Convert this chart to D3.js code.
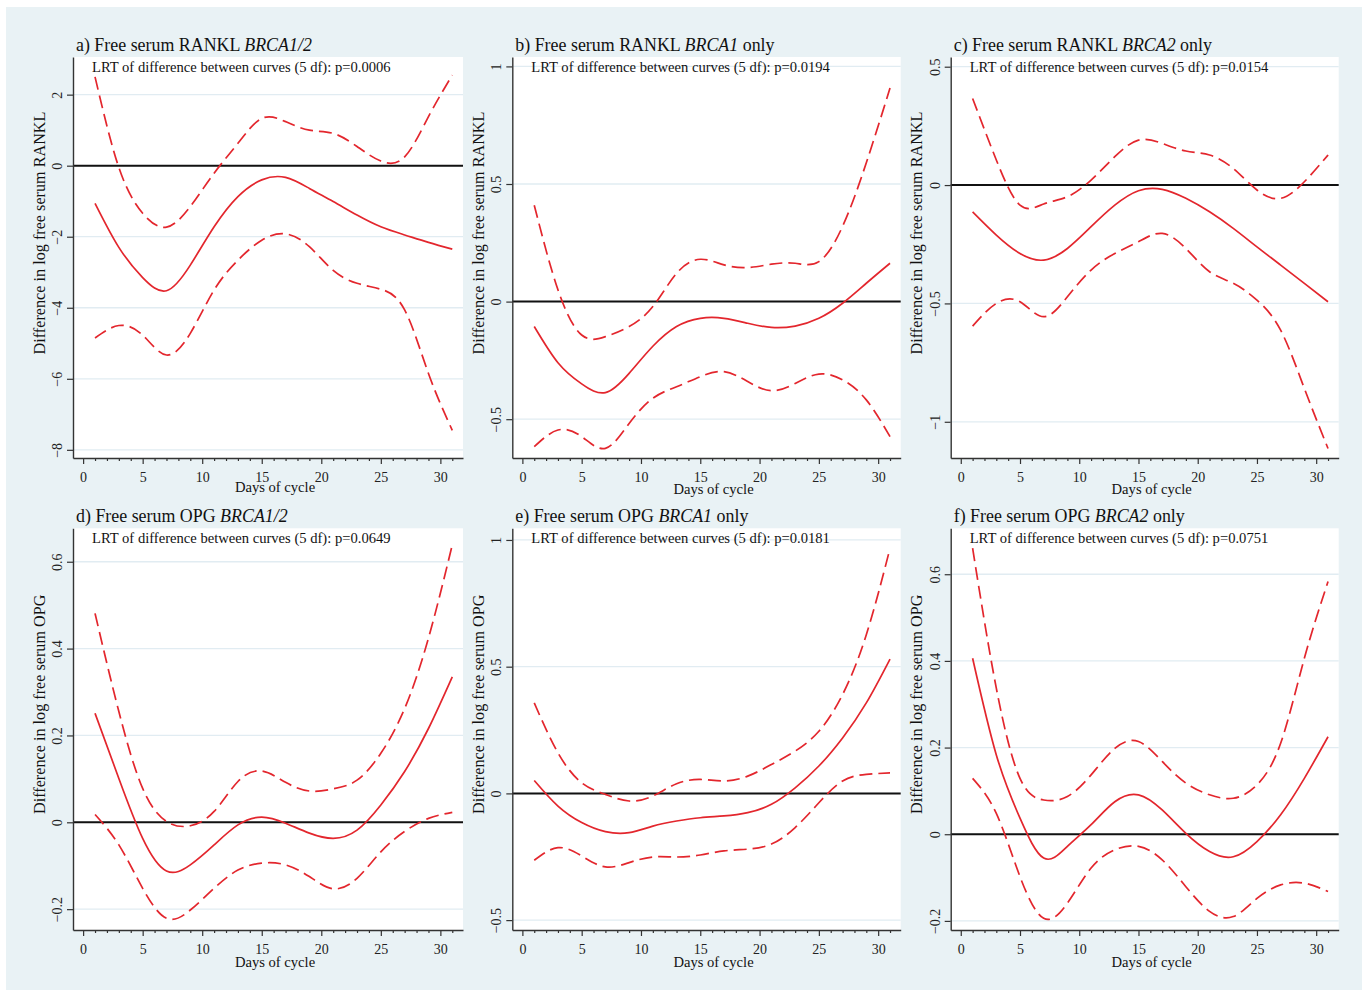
<!DOCTYPE html>
<html>
<head>
<meta charset="utf-8">
<script src="https://cdn.jsdelivr.net/npm/d3@7"></script>
<style>
  body { margin: 0; background: #fff; }
  svg { display: block; font-family: "Liberation Serif", "Times New Roman", serif; }
</style>
</head>
<body>
<div id="chart"></div>
<script>
const days = [1, 3, 5, 7, 9, 11, 13, 15, 17, 19, 21, 23, 25, 27, 29, 31];

// a) free serum RANKL, BRCA1/2
const ranklBoth = [-1.06, -2.3, -3.15, -3.52, -2.8, -1.72, -0.87, -0.4, -0.33, -0.64, -1.01, -1.39, -1.72, -1.95, -2.16, -2.35];
const ranklBothHi = [2.5, -0.05, -1.34, -1.73, -1.15, -0.21, 0.63, 1.33, 1.24, 1.0, 0.91, 0.54, 0.13, 0.25, 1.38, 2.55];
const ranklBothLo = [-4.85, -4.5, -4.77, -5.33, -4.72, -3.5, -2.66, -2.1, -1.92, -2.28, -2.95, -3.31, -3.48, -4.06, -5.85, -7.45];

// b) free serum RANKL, BRCA1 only
const ranklB1 = [-0.106, -0.26, -0.35, -0.387, -0.305, -0.19, -0.106, -0.071, -0.071, -0.092, -0.11, -0.104, -0.071, -0.007, 0.078, 0.163];
const ranklB1Hi = [0.41, 0.05, -0.142, -0.149, -0.106, -0.021, 0.12, 0.18, 0.156, 0.145, 0.159, 0.163, 0.17, 0.32, 0.59, 0.908];
const ranklB1Lo = [-0.617, -0.546, -0.574, -0.624, -0.518, -0.411, -0.362, -0.319, -0.298, -0.34, -0.379, -0.348, -0.308, -0.333, -0.418, -0.574];

// c) free serum RANKL, BRCA2 only
const ranklB2 = [-0.113, -0.211, -0.289, -0.317, -0.268, -0.176, -0.085, -0.024, -0.018, -0.056, -0.113, -0.183, -0.261, -0.338, -0.415, -0.493];
const ranklB2Hi = [0.366, 0.106, -0.085, -0.08, -0.049, 0.021, 0.12, 0.19, 0.176, 0.144, 0.127, 0.07, -0.021, -0.056, 0.014, 0.127];
const ranklB2Lo = [-0.596, -0.5, -0.493, -0.556, -0.472, -0.359, -0.289, -0.239, -0.204, -0.268, -0.366, -0.415, -0.486, -0.613, -0.859, -1.113];

// d) free serum OPG, BRCA1/2
const opgBoth = [0.251, 0.101, -0.037, -0.112, -0.098, -0.052, -0.006, 0.012, -0.002, -0.025, -0.037, -0.018, 0.04, 0.117, 0.216, 0.335];
const opgBothHi = [0.481, 0.255, 0.078, 0.002, -0.008, 0.025, 0.094, 0.118, 0.092, 0.072, 0.077, 0.097, 0.159, 0.262, 0.424, 0.639];
const opgBothLo = [0.018, -0.052, -0.152, -0.221, -0.202, -0.152, -0.11, -0.094, -0.098, -0.125, -0.153, -0.129, -0.068, -0.021, 0.009, 0.023];

// e) free serum OPG, BRCA1 only
const opgB1 = [0.051, -0.05, -0.115, -0.151, -0.155, -0.129, -0.109, -0.096, -0.089, -0.076, -0.043, 0.022, 0.108, 0.219, 0.357, 0.53];
const opgB1Hi = [0.357, 0.16, 0.042, -0.004, -0.03, -0.01, 0.038, 0.055, 0.049, 0.068, 0.114, 0.167, 0.245, 0.39, 0.626, 0.967];
const opgB1Lo = [-0.264, -0.214, -0.247, -0.29, -0.273, -0.251, -0.251, -0.243, -0.227, -0.22, -0.2, -0.135, -0.037, 0.049, 0.075, 0.081];

// f) free serum OPG, BRCA2 only
const opgB2 = [0.406, 0.183, 0.037, -0.055, -0.028, 0.022, 0.075, 0.091, 0.056, 0.002, -0.04, -0.052, -0.017, 0.045, 0.129, 0.225];
const opgB2Hi = [0.66, 0.337, 0.129, 0.079, 0.087, 0.137, 0.198, 0.214, 0.168, 0.118, 0.091, 0.083, 0.114, 0.21, 0.406, 0.583];
const opgB2Lo = [0.129, 0.048, -0.098, -0.194, -0.159, -0.078, -0.036, -0.028, -0.059, -0.121, -0.178, -0.19, -0.148, -0.117, -0.113, -0.132];

const letters = ["a", "b", "c", "d", "e", "f"];
const markers = ["Free serum RANKL", "Free serum RANKL", "Free serum RANKL", "Free serum OPG", "Free serum OPG", "Free serum OPG"];
const genes = ["BRCA1/2", "BRCA1", "BRCA2", "BRCA1/2", "BRCA1", "BRCA2"];
const geneSuffix = ["", " only", " only", "", " only", " only"];
const pValues = ["0.0006", "0.0194", "0.0154", "0.0649", "0.0181", "0.0751"];
const yTitles = ["Difference in log free serum RANKL", "Difference in log free serum RANKL", "Difference in log free serum RANKL",
  "Difference in log free serum OPG", "Difference in log free serum OPG", "Difference in log free serum OPG"];
const yTickValues = [[-8, -6, -4, -2, 0, 2], [-0.5, 0, 0.5, 1], [-1, -0.5, 0, 0.5],
  [-0.2, 0, 0.2, 0.4, 0.6], [-0.5, 0, 0.5, 1], [-0.2, 0, 0.2, 0.4, 0.6]];
const xMajor = [0, 5, 10, 15, 20, 25, 30];

const estimates = [ranklBoth, ranklB1, ranklB2, opgBoth, opgB1, opgB2];
const uppers = [ranklBothHi, ranklB1Hi, ranklB2Hi, opgBothHi, opgB1Hi, opgB2Hi];
const lowers = [ranklBothLo, ranklB1Lo, ranklB2Lo, opgBothLo, opgB1Lo, opgB2Lo];

const width = 1368, height = 992;
const cols = [[73, 463], [512.3, 900.7], [950.7, 1338.7]];
const rows = [[57, 458], [528.3, 930]];
const yDomains = [[-8.23, 3.06], [-0.665, 1.04], [-1.153, 0.541], [-0.248, 0.677], [-0.539, 1.046], [-0.221, 0.706]];
const xDomain = [-0.85, 31.9];
const xTitleOffset = [34, 36, 36, 37, 37, 37];
const red = "#e3262d";

const svg = d3.select("#chart").append("svg")
  .attr("width", width)
  .attr("height", height);

svg.append("rect")
  .attr("x", 6).attr("y", 7)
  .attr("width", 1356).attr("height", 983)
  .attr("fill", "#e9f2f5");

const fmt = d => d3.format("~g")(d);

letters.forEach((letter, i) => {
  const [left, right] = cols[i % 3];
  const [top, bottom] = rows[Math.floor(i / 3)];

  const x = d3.scaleLinear().domain(xDomain).range([left, right]);
  const y = d3.scaleLinear().domain(yDomains[i]).range([bottom, top]);

  const g = svg.append("g");

  g.append("rect")
    .attr("x", left).attr("y", top)
    .attr("width", right - left).attr("height", bottom - top)
    .attr("fill", "#fff");

  // grid
  g.append("g")
    .selectAll("line")
    .data(yTickValues[i])
    .join("line")
    .attr("x1", left).attr("x2", right)
    .attr("y1", d => y(d)).attr("y2", d => y(d))
    .attr("stroke", "#e1ecf2")
    .attr("stroke-width", 1.3);

  // zero reference
  g.append("line")
    .attr("x1", left).attr("x2", right)
    .attr("y1", y(0)).attr("y2", y(0))
    .attr("stroke", "#111")
    .attr("stroke-width", 2);

  const line = d3.line()
    .x((d, k) => x(days[k]))
    .y(d => y(d))
    .curve(d3.curveNatural);

  [uppers[i], lowers[i]].forEach(s => {
    g.append("path")
      .datum(s)
      .attr("d", line)
      .attr("fill", "none")
      .attr("stroke", red)
      .attr("stroke-width", 1.7)
      .attr("stroke-dasharray", "13,6");
  });

  g.append("path")
    .datum(estimates[i])
    .attr("d", line)
    .attr("fill", "none")
    .attr("stroke", red)
    .attr("stroke-width", 1.7);

  // y axis
  const yAxis = g.append("g")
    .attr("transform", `translate(${left},0)`)
    .call(d3.axisLeft(y).tickValues(yTickValues[i]).tickSize(6).tickSizeOuter(0).tickFormat(fmt));
  yAxis.select(".domain").attr("stroke", "#333").attr("stroke-width", 1.4);
  yAxis.selectAll(".tick line").attr("stroke", "#333").attr("stroke-width", 1.2);
  yAxis.selectAll(".tick text")
    .attr("x", null).attr("dy", null)
    .attr("transform", "translate(-16,0) rotate(-90)")
    .attr("dy", "0.35em")
    .attr("text-anchor", "middle")
    .attr("font-size", 14)
    .attr("font-family", "Liberation Serif, serif")
    .attr("fill", "#222");

  // x axis, minor ticks every day
  g.append("g")
    .attr("transform", `translate(0,${bottom})`)
    .call(d3.axisBottom(x).tickValues(d3.range(1, 32).filter(d => d % 5)).tickSize(3).tickSizeOuter(0).tickFormat(""))
    .call(a => a.select(".domain").remove())
    .selectAll(".tick line").attr("stroke", "#333").attr("stroke-width", 1.2);

  const xAxis = g.append("g")
    .attr("transform", `translate(0,${bottom})`)
    .call(d3.axisBottom(x).tickValues(xMajor).tickSize(6).tickSizeOuter(0).tickFormat(fmt));
  xAxis.select(".domain").attr("stroke", "#333").attr("stroke-width", 1.4);
  xAxis.selectAll(".tick line").attr("stroke", "#333").attr("stroke-width", 1.2);
  xAxis.selectAll(".tick text")
    .attr("y", 24).attr("dy", null)
    .attr("font-size", 14)
    .attr("font-family", "Liberation Serif, serif")
    .attr("fill", "#222");

  // titles
  const title = g.append("text")
    .attr("x", left + 3)
    .attr("y", top - 6)
    .attr("font-size", 17.9)
    .attr("fill", "#111");
  title.append("tspan").text(`${letter}) ${markers[i]} `);
  title.append("tspan").attr("font-style", "italic").text(genes[i]);
  title.append("tspan").text(geneSuffix[i]);

  g.append("text")
    .attr("x", left + 19)
    .attr("y", top + 15)
    .attr("font-size", 14.6)
    .attr("fill", "#111")
    .text(`LRT of difference between curves (5 df): p=${pValues[i]}`);

  g.append("text")
    .attr("x", (left + right) / 2 + 7)
    .attr("y", bottom + xTitleOffset[i])
    .attr("text-anchor", "middle")
    .attr("font-size", 14.6)
    .attr("fill", "#111")
    .text("Days of cycle");

  g.append("text")
    .attr("transform", `translate(${left - 34},${top + 176}) rotate(-90)`)
    .attr("dy", "0.35em")
    .attr("text-anchor", "middle")
    .attr("font-size", 16.2)
    .attr("fill", "#111")
    .text(yTitles[i]);
});
</script>
</body>
</html>
